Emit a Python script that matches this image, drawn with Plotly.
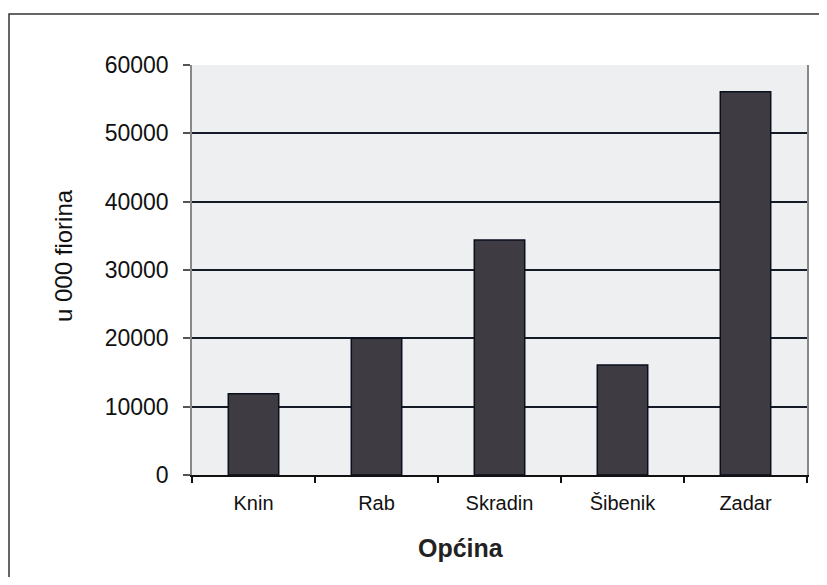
import plotly.graph_objects as go

categories = ["Knin", "Rab", "Skradin", "Šibenik", "Zadar"]
values = [11900, 20000, 34400, 16100, 56100]
y_ticks = [0, 10000, 20000, 30000, 40000, 50000, 60000]
y_title = "u 000 fiorina"
x_title = "Općina"

OFF = 8  # page body margin offset
W, H = 827 - OFF, 585 - 2 * OFF
L, R, T = 192 - OFF, 20, 65 - OFF
B = H - (475 - OFF)
pw, ph = W - L - R, H - T - B

def px2x(px):
    return (px - OFF - L) / pw

def px2y(py):
    return (H - B - (py - OFF)) / ph

fig = go.Figure()
fig.add_trace(go.Bar(
    x=categories, y=values,
    marker=dict(color="#3e3c42", line=dict(color="#0a0f1e", width=1.5)),
    width=0.41,
))

font = "Liberation Sans, Arial, sans-serif"
fig.update_layout(
    width=W, height=H,
    margin=dict(l=L, r=R, t=T, b=B),
    paper_bgcolor="white",
    plot_bgcolor="#eeeff1",
    showlegend=False,
    font=dict(family=font, color="#111111"),
    xaxis=dict(
        type="category",
        tickson="boundaries",
        ticks="outside", ticklen=6, tickcolor="#111111", tickwidth=1.5,
        showline=True, linecolor="#111111", linewidth=1.5,
        showgrid=False,
        tickfont=dict(size=20, family=font, color="#111111"),
        ticklabelstandoff=9,
    ),
    yaxis=dict(
        range=[0, 60000],
        tickvals=y_ticks,
        ticktext=[str(v) for v in y_ticks],
        ticks="outside", ticklen=7, tickcolor="#555555", tickwidth=1.5,
        showline=True, linecolor="#888888", linewidth=1.5, mirror=True,
        showgrid=True, gridcolor="#141a26", gridwidth=1.6,
        zeroline=False,
        tickfont=dict(size=23, family=font, color="#111111"),
        ticklabelstandoff=10,
    ),
    annotations=[
        dict(text=x_title, xref="paper", yref="paper",
             x=px2x(461), y=px2y(548), showarrow=False,
             xanchor="center", yanchor="middle",
             font=dict(size=25, family=font, color="#222222", weight="bold")),
        dict(text=y_title, xref="paper", yref="paper",
             x=px2x(63), y=px2y(256), showarrow=False, textangle=-90,
             xanchor="center", yanchor="middle",
             font=dict(size=24, family=font, color="#111111")),
    ],
    shapes=[
        dict(type="rect", xref="paper", yref="paper",
             x0=px2x(9), x1=px2x(821), y0=px2y(600), y1=px2y(14),
             line=dict(color="#333333", width=1.5), layer="below"),
    ],
)

fig.write_html("out.html")
